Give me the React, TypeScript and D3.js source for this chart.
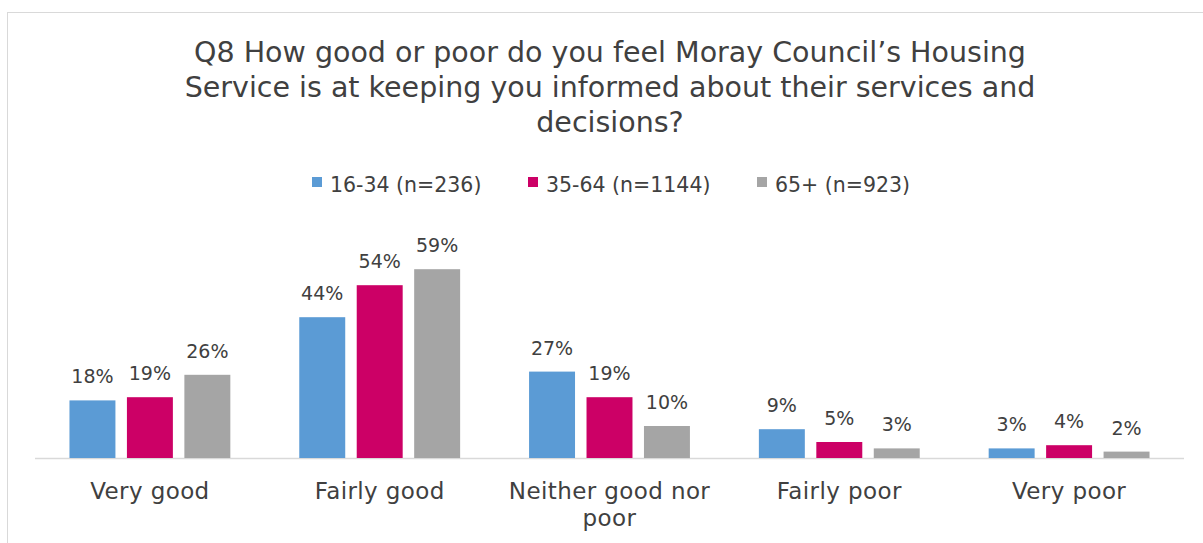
import * as d3 from 'd3'

const categories = ['Very good', 'Fairly good', 'Neither good nor poor', 'Fairly poor', 'Very poor']
const seriesNames = ['16-34 (n=236)', '35-64 (n=1144)', '65+ (n=923)']
const age1634 = [18, 44, 27, 9, 3]
const age3564 = [19, 54, 19, 5, 4]
const age65 = [26, 59, 10, 3, 2]
const colors = ['#5B9BD5', '#CC0066', '#A5A5A5']
const titleLines = [
    'Q8 How good or poor do you feel Moray Council\u2019s Housing',
    'Service is at keeping you informed about their services and',
    'decisions?',
]
// wrapped axis labels, like Excel does it
const categoryLines: Record<string, string[]> = {
    'Neither good nor poor': ['Neither good nor', 'poor'],
}

const width = 1203
const height = 543
const margin = { left: 35, right: 19, top: 266, bottom: 85 }
const font = '"DejaVu Sans", sans-serif'
const textColor = '#404040'

const App = () => {
    const values = [age1634, age3564, age65]

    const x0 = d3.scaleBand<string>()
        .domain(categories)
        .range([margin.left, width - margin.right])
        .paddingInner(0.3)
        .paddingOuter(0.15)

    const x1 = d3.scaleBand<number>()
        .domain(d3.range(seriesNames.length))
        .range([0, x0.bandwidth()])
        .paddingInner(0.2)

    const y = d3.scaleLinear().domain([0, 60]).range([height - margin.bottom, margin.top])
    const baseY = y(0)

    const legendX = [312, 528, 757]

    return (
        <svg width={width} height={height} style={{ position: 'absolute', left: 0, top: 0, background: '#fff' }}
            fontFamily={font}>
            <rect x={7.5} y={12.5} width={width} height={height} fill="#fff" stroke="#D9D9D9" strokeWidth={1} />

            <text textAnchor="middle" fill={textColor} fontSize={28.5}>
                {titleLines.map((line, i) => (
                    <tspan key={i} x={610} y={62 + i * 35}>{line}</tspan>
                ))}
            </text>

            {seriesNames.map((name, i) => (
                <g key={name} transform={`translate(${legendX[i]},0)`}>
                    <rect x={0} y={177} width={10} height={10} fill={colors[i]} />
                    <text x={18} y={192} fontSize={20.5} fill={textColor}>{name}</text>
                </g>
            ))}

            <line x1={margin.left} x2={width - margin.right} y1={baseY + 0.5} y2={baseY + 0.5}
                stroke="#D9D9D9" strokeWidth={1.5} />

            {categories.map((cat, ci) => (
                <g key={cat} transform={`translate(${x0(cat)},0)`}>
                    {values.map((vals, si) => (
                        <g key={si}>
                            <rect x={x1(si)} y={y(vals[ci])} width={x1.bandwidth()}
                                height={baseY - y(vals[ci])} fill={colors[si]} />
                            <text x={(x1(si) as number) + x1.bandwidth() / 2} y={y(vals[ci]) - 17}
                                textAnchor="middle" fontSize={19} fill={textColor}>
                                {vals[ci]}%
                            </text>
                        </g>
                    ))}
                    {(categoryLines[cat] || [cat]).map((line, li) => (
                        <text key={li} x={x0.bandwidth() / 2} y={499 + li * 27} textAnchor="middle"
                            fontSize={23} letterSpacing={0.4} fill={textColor}>
                            {line}
                        </text>
                    ))}
                </g>
            ))}
        </svg>
    )
}

export default App
